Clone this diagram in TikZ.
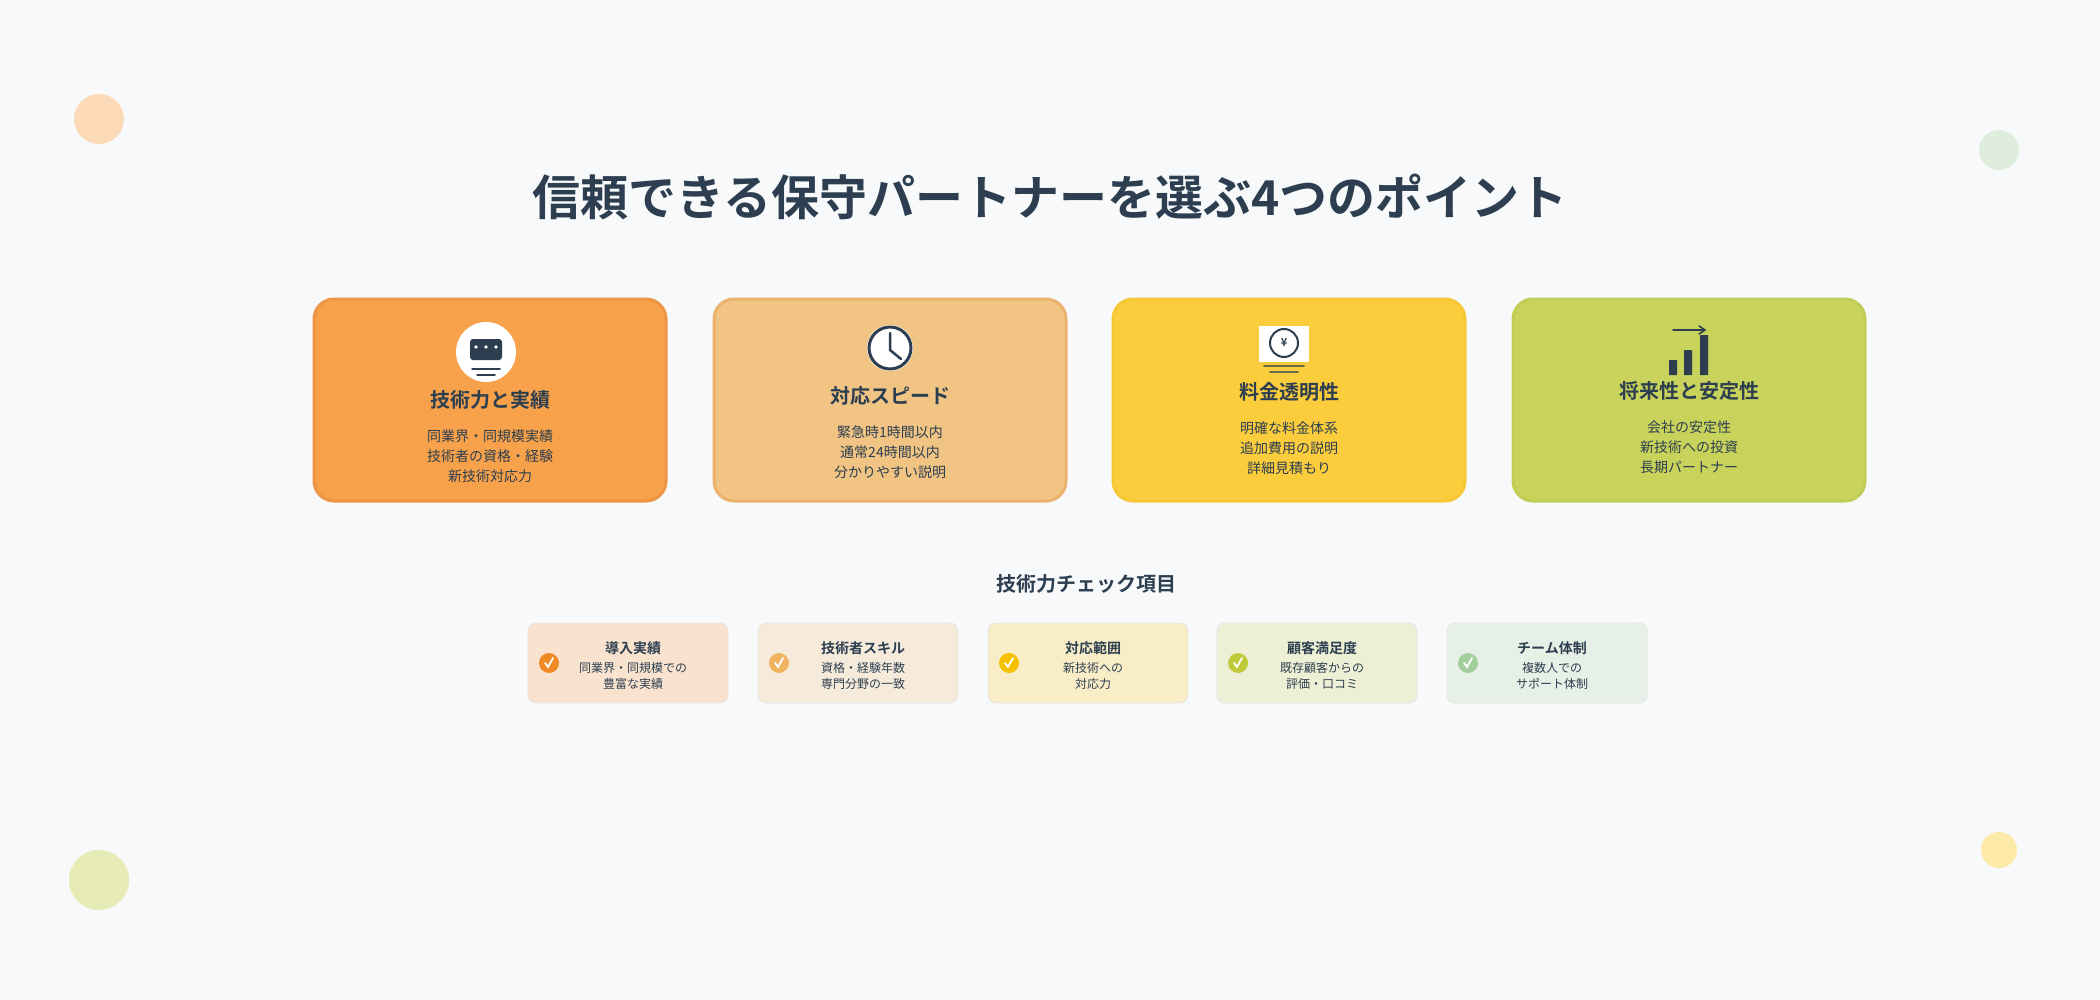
\documentclass[tikz,border=0pt]{standalone}
\usepackage{fontspec}
\setmainfont{Noto Sans CJK JP}
\newfontfamily\jpbold{Noto Sans CJK JP Bold}
\usetikzlibrary{positioning}
\definecolor{TextDark}{HTML}{2C3E50}
\definecolor{PageBg}{HTML}{F8F9FA}
\definecolor{CardA}{HTML}{F7A24A}\definecolor{CardAb}{HTML}{EE9546}
\definecolor{CardB}{HTML}{F2C484}\definecolor{CardBb}{HTML}{EAB26C}
\definecolor{CardC}{HTML}{FBCD3D}\definecolor{CardCb}{HTML}{F6C835}
\definecolor{CardD}{HTML}{C9D35B}\definecolor{CardDb}{HTML}{C2CD55}
\definecolor{ChkA}{HTML}{F08A24}\definecolor{BoxA}{HTML}{F9E3CF}
\definecolor{ChkB}{HTML}{F0B460}\definecolor{BoxB}{HTML}{F6EBDB}
\definecolor{ChkC}{HTML}{F5C000}\definecolor{BoxC}{HTML}{F9EDC8}
\definecolor{ChkD}{HTML}{C0C93A}\definecolor{BoxD}{HTML}{EDF0D5}
\definecolor{ChkE}{HTML}{A3CD9B}\definecolor{BoxE}{HTML}{E7F0E6}
\tikzset{
  card/.style={rounded corners=20, line width=3, minimum width=352, minimum height=202},
  cardtitle/.style={font=\jpbold\fontsize{20}{24}\selectfont, text=TextDark},
  cardbody/.style={font=\fontsize{14}{20}\selectfont, text=TextDark, align=center, inner sep=0},
  chkbox/.style={rounded corners=8, draw=white!80!gray, line width=0.8, minimum width=200, minimum height=80},
  chktitle/.style={font=\jpbold\fontsize{14}{16}\selectfont, text=TextDark},
  chkbody/.style={font=\fontsize{12}{16}\selectfont, text=TextDark, align=center, inner sep=0},
}
\begin{document}
\begin{tikzpicture}[x=1pt,y=-1pt,line cap=round]
    \fill[PageBg] (0,0) rectangle (2100,1000);
    \useasboundingbox (0,0) rectangle (2100,1000);
    % decoration
    \fill[CardA!40] (99,119) circle (25);
    \fill[ChkE!35] (1999,150) circle (20);
    \fill[CardD!45] (99,880) circle (30);
    \fill[CardC!45] (1999,850) circle (18);
    \node[font=\jpbold\fontsize{48}{56}\selectfont, text=TextDark] (title) at (1050,197) {信頼できる保守パートナーを選ぶ4つのポイント};
    % cards
    \foreach \cx/\fc/\name/\ty/\head/\body in {
      490/A/tech/400/技術力と実績/{同業界・同規模実績\\技術者の資格・経験\\新技術対応力},
      890/B/speed/396/対応スピード/{緊急時1時間以内\\通常24時間以内\\分かりやすい説明},
      1289/C/price/392/料金透明性/{明確な料金体系\\追加費用の説明\\詳細見積もり},
      1689/D/future/391/将来性と安定性/{会社の安定性\\新技術への投資\\長期パートナー}} {
      \node[card, fill=Card\fc, draw=Card\fc b] (\name) at (\cx,400) {};
      \node[cardtitle] (\name-title) at (\cx,\ty) {\head};
      \node[cardbody] (\name-body) at (\cx,\ty+56) {\body};
    }
    % icons
    \fill[white] (486,352) circle (30);
    \fill[TextDark, rounded corners=3] (470,339) rectangle (502,360);
    \foreach \dx in {-10,0,10} \fill[white] (486+\dx,347) circle (1.8);
    \draw[TextDark, line width=1.5] (472,369) -- (500,369) (477,375) -- (495,375);
    \fill[white] (890,348) circle (23);
    \draw[TextDark, line width=3] (890,348) circle (21);
    \draw[TextDark, line width=2.5] (890,333) -- (890,350) -- (901,359);
    \fill[white] (1259,326) rectangle (1309,362);
    \draw[TextDark, line width=2] (1284,343) circle (14);
    \node[font=\jpbold\fontsize{11}{12}\selectfont, text=TextDark] (yen) at (1284,343) {¥};
    \draw[TextDark!70!CardC, line width=1.5] (1264,366) -- (1304,366) (1270,372) -- (1298,372);
    \fill[TextDark] (1669,360) rectangle (1677,375) (1684,350) rectangle (1692,375) (1700,335) rectangle (1708,375);
    \draw[TextDark, line width=2] (1673,330) -- (1704,330);
    \draw[TextDark, line width=1.5] (1699,326) -- (1705,330) -- (1699,334);
    % checklist
    \node[font=\jpbold\fontsize{20}{24}\selectfont, text=TextDark] (chk-head) at (1086,584) {技術力チェック項目};
    \foreach \cx/\fc/\name/\head/\body in {
      628/A/intro/導入実績/{同業界・同規模での\\豊富な実績},
      858/B/skill/技術者スキル/{資格・経験年数\\専門分野の一致},
      1088/C/range/対応範囲/{新技術への\\対応力},
      1317/D/cust/顧客満足度/{既存顧客からの\\評価・口コミ},
      1547/E/team/チーム体制/{複数人での\\サポート体制}} {
      \node[chkbox, fill=Box\fc] (\name) at (\cx,663) {};
      \node[chktitle] (\name-title) at (\cx+5,648) {\head};
      \node[chkbody] (\name-body) at (\cx+5,676) {\body};
      \fill[Chk\fc] (\cx-79,663) circle (10);
      \draw[white, line width=1.8] (\cx-83,663) -- (\cx-80,667) -- (\cx-75,658);
    }
\end{tikzpicture}
\end{document}
